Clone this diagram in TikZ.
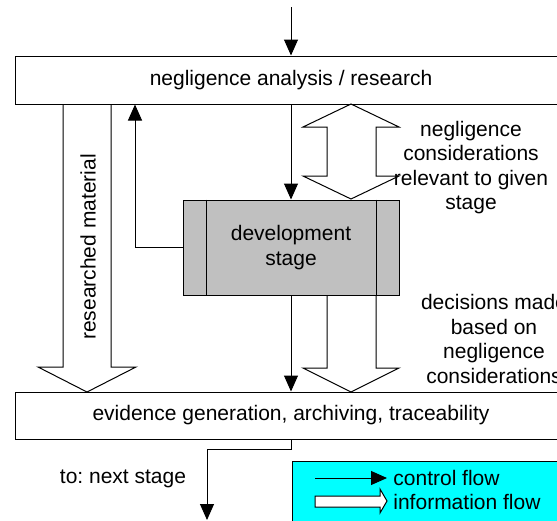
\documentclass[tikz,border=0pt]{standalone}
\usepackage{fontspec}
\setmainfont{Liberation Sans}
\frenchspacing
\usetikzlibrary{arrows.meta}
\definecolor{devgray}{RGB}{192,192,192}
\definecolor{keycyan}{RGB}{0,255,255}

\begin{document}
\begin{tikzpicture}[x=0.5pt,y=-0.5pt,
  box/.style={rectangle,draw,line width=0.5pt,inner sep=0pt,font=\fontsize{10.5}{12.5}\selectfont},
  txt/.style={align=center,inner sep=0pt,font=\fontsize{10.5}{12.3}\selectfont},
  ctrl/.style={-{Triangle[length=8pt,width=7pt]},line width=0.5pt},
  info/.style={draw,line width=0.5pt,fill=white}]
\useasboundingbox (0,0) rectangle (557,520);
\clip (0,0) rectangle (557,520);

\draw[info] (63,104) -- (63,367) -- (38,367) -- (87,392) -- (136,367) -- (111,367) -- (111,104);
\draw[info] (351,104) -- (399,127) -- (376,127) -- (376,176) -- (399,176) -- (351,199) -- (303,176) -- (327,176) -- (327,127) -- (303,127) -- cycle;
\draw[info] (327,295) -- (327,368) -- (303,368) -- (351,392) -- (399,368) -- (376,368) -- (376,295);

\node (res) at (291,80) [box,minimum width=276pt,minimum height=24pt] {negligence analysis / research};
\node (dev) at (291,247.5) [box,fill=devgray,align=center,minimum width=108pt,minimum height=47.5pt] {development\\stage};
\node (evi) at (291,415.5) [box,minimum width=276pt,minimum height=23.5pt] {evidence generation, archiving, traceability};

\draw[line width=0.5pt] ([xshift=12pt]dev.north west) -- ([xshift=12pt]dev.south west);
\draw[line width=0.5pt] ([xshift=-11.5pt]dev.north east) -- ([xshift=-11.5pt]dev.south east);

\coordinate (in) at (291,7);
\coordinate (fbx) at (135,0);
\coordinate (out) at (207,520);
\draw[ctrl] (in) -- (res.north);
\draw[ctrl] (res.south) -- (dev.north);
\draw[ctrl] (dev.south) -- (evi.north);
\draw[ctrl] (dev.west) -| (res.south -| fbx);
\draw[ctrl] (evi.south) -- ++(0,10) -| (out);

\node (rm) at (88,247) [txt,rotate=90] {researched material};
\node (n1) at (471,167.5) [txt] {negligence\\considerations\\relevant to given\\stage};
\node (n2) at (494,339) [txt] {decisions made\\based on\\negligence\\considerations};
\node (nx) at (123,479) [txt] {to: next stage};

\node (key) at (292,461) [anchor=north west,draw,fill=keycyan,line width=0.5pt,minimum width=200pt,minimum height=60pt] {};
\coordinate (c1) at (315,478);
\coordinate (c2) at (387,478);
\draw[ctrl] (c1) -- (c2);
\draw[info] (315,496) -- (380,496) -- (380,489) -- (387,501) -- (380,513) -- (380,507) -- (315,507) -- cycle;
\node (lc) at (393,478) [txt,anchor=west] {control flow};
\node (li) at (393,502) [txt,anchor=west] {information flow};

\end{tikzpicture}
\end{document}
